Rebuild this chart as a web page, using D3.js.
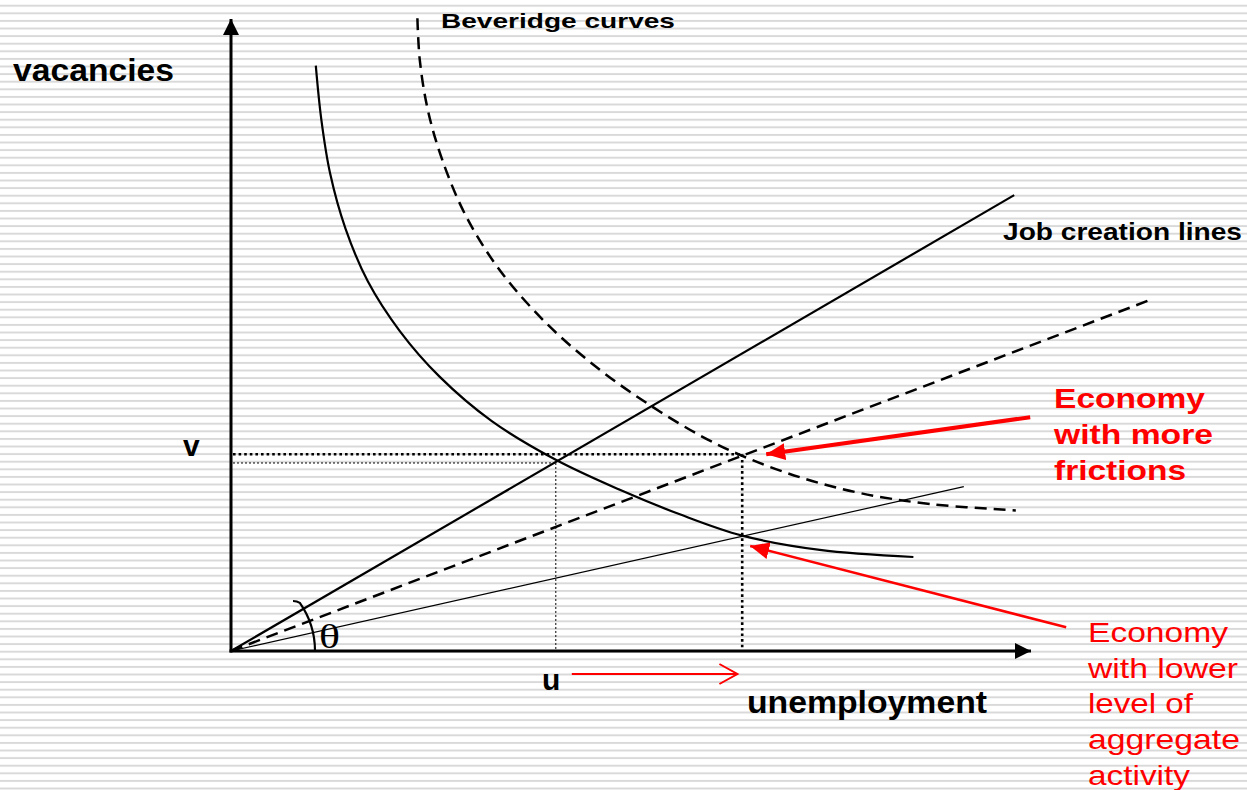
<!DOCTYPE html>
<html>
<head>
<meta charset="utf-8">
<script src="https://cdn.jsdelivr.net/npm/d3@7"></script>
<style>
  body { margin: 0; background: #fff; }
  svg { display: block; font-family: "Liberation Sans", Arial, sans-serif; }
</style>
</head>
<body>
<div class="chart-area"></div>
<script>
// job creation lines: end point (u, v) of each ray starting at the origin
const jobLineNames = ["base", "frictions", "lowActivity"];
const jobLineEnds = [[9.79, 5.77], [11.53, 4.46], [9.16, 2.08]];

// beveridge curves, (u, v)
const beveridgeBase = [
  [1.06, 7.41], [1.13, 6.72], [1.24, 6.04], [1.43, 5.35], [1.71, 4.68],
  [2.11, 4.05], [2.61, 3.47], [3.26, 2.91], [4.06, 2.42], [4.86, 2.04],
  [5.61, 1.73], [6.39, 1.46], [7.36, 1.28], [8.53, 1.19]
];
const beveridgeFrictions = [
  [2.33, 8.01], [2.36, 7.48], [2.46, 6.85], [2.64, 6.22], [2.93, 5.52],
  [3.36, 4.82], [3.96, 4.13], [4.61, 3.56], [5.24, 3.11], [5.86, 2.73],
  [6.39, 2.47], [7.11, 2.20], [7.86, 2.00], [8.74, 1.86], [9.81, 1.78]
];

// dotted projections of the equilibria onto the axes
const guideNames = ["base", "frictions"];
const guideU = [4.06, 6.39];
const guideV = [2.38, 2.49];

const axisLabels = ["vacancies", "unemployment"];
const pointLabels = ["v", "u"];
const frictionLines = ["Economy", "with more", "frictions"];
const lowActivityLines = ["Economy", "with lower", "level of", "aggregate", "activity"];

const width = 1247,
  height = 790,
  origin = { x: 231, y: 651 };

const x = d3.scaleLinear().domain([0, 10]).range([origin.x, 1031]);
const y = d3.scaleLinear().domain([0, 8]).range([origin.y, 19]);

const svg = d3
  .select(".chart-area")
  .append("svg")
  .attr("width", width)
  .attr("height", height);

const defs = svg.append("defs");

// striped slide background
const stripes = defs
  .append("pattern")
  .attr("id", "stripes")
  .attr("patternUnits", "userSpaceOnUse")
  .attr("width", 8)
  .attr("height", 7.6);
stripes.append("rect").attr("y", 4.7).attr("width", 8).attr("height", 2).attr("fill", "#d9d9d9");

svg.append("rect").attr("width", width).attr("height", height).attr("fill", "#fff");
svg.append("rect").attr("width", width).attr("height", height).attr("fill", "url(#stripes)");

function marker(id, len, w, color) {
  defs
    .append("marker")
    .attr("id", id)
    .attr("markerUnits", "userSpaceOnUse")
    .attr("viewBox", `0 ${-w / 2} ${len} ${w}`)
    .attr("refX", len)
    .attr("refY", 0)
    .attr("markerWidth", len)
    .attr("markerHeight", w)
    .attr("orient", "auto")
    .append("path")
    .attr("d", `M0,${-w / 2}L${len},0L0,${w / 2}Z`)
    .attr("fill", color);
}
marker("axis-head", 16, 16, "#000");
marker("red-head", 19, 17, "#f00");

// axes, no ticks
const xAxis = svg
  .append("g")
  .attr("transform", `translate(0,${origin.y})`)
  .call(d3.axisBottom(x).tickValues([]).tickSizeOuter(0));
const yAxis = svg
  .append("g")
  .attr("transform", `translate(${origin.x},0)`)
  .call(d3.axisLeft(y).tickValues([]).tickSizeOuter(0));
[xAxis, yAxis].forEach((a) =>
  a.select(".domain").attr("stroke", "#000").attr("stroke-width", 3).attr("marker-end", "url(#axis-head)")
);
// make the y domain path run upward so the head points up
yAxis.select(".domain").attr("d", `M0,${y(0) + 1.5}V${y(8)}`);
xAxis.select(".domain").attr("d", `M${x(0) - 1.5},0H${x(10)}`);

const lineStyle = {
  base: { width: 2.2, dash: null },
  frictions: { width: 2.5, dash: "12,7" },
  lowActivity: { width: 1.2, dash: null }
};

// dotted guides
const guideStyle = {
  base: { width: 1, dash: "2,2" },
  frictions: { width: 2.6, dash: "2.6,3" }
};
guideNames.forEach((name, i) => {
  const g = svg
    .append("g")
    .attr("fill", "none")
    .attr("stroke", "#000")
    .attr("stroke-width", guideStyle[name].width)
    .attr("stroke-dasharray", guideStyle[name].dash);
  g.append("line")
    .attr("x1", x(0) + 2)
    .attr("x2", x(guideU[i]))
    .attr("y1", y(guideV[i]))
    .attr("y2", y(guideV[i]));
  g.append("line")
    .attr("x1", x(guideU[i]))
    .attr("x2", x(guideU[i]))
    .attr("y1", y(guideV[i]))
    .attr("y2", y(0) - 2);
});

// job creation lines
svg
  .append("g")
  .attr("fill", "none")
  .attr("stroke", "#000")
  .selectAll("line")
  .data(jobLineEnds)
  .enter()
  .append("line")
  .attr("x1", x(0))
  .attr("y1", y(0))
  .attr("x2", (d) => x(d[0]))
  .attr("y2", (d) => y(d[1]))
  .attr("stroke-width", (d, i) => lineStyle[jobLineNames[i]].width)
  .attr("stroke-dasharray", (d, i) => lineStyle[jobLineNames[i]].dash);

// beveridge curves
const curve = d3
  .line()
  .x((d) => x(d[0]))
  .y((d) => y(d[1]))
  .curve(d3.curveCatmullRom.alpha(0.5));

svg
  .append("g")
  .attr("fill", "none")
  .attr("stroke", "#000")
  .selectAll("path")
  .data([beveridgeBase, beveridgeFrictions])
  .enter()
  .append("path")
  .attr("d", curve)
  .attr("stroke-width", (d, i) => (i ? 2.5 : 2.2))
  .attr("stroke-dasharray", (d, i) => (i ? "12,7" : null));

// theta arc
const arcPath = d3.path();
arcPath.moveTo(origin.x + 84, origin.y);
arcPath.arc(origin.x, origin.y, 84, 0, -0.61, true);
arcPath.quadraticCurveTo(origin.x + 66, origin.y - 50, origin.x + 62, origin.y - 50);
svg
  .append("path")
  .attr("d", arcPath.toString())
  .attr("fill", "none")
  .attr("stroke", "#000")
  .attr("stroke-width", 2.2);

// red arrows
const redArrows = svg.append("g").attr("stroke", "#f00").attr("fill", "none");
redArrows
  .append("line")
  .attr("x1", x(9.99)).attr("y1", y(2.96))
  .attr("x2", x(6.69)).attr("y2", y(2.49))
  .attr("stroke-width", 4)
  .attr("marker-end", "url(#red-head)");
redArrows
  .append("line")
  .attr("x1", x(10.44)).attr("y1", y(0.3))
  .attr("x2", x(6.49)).attr("y2", y(1.33))
  .attr("stroke-width", 2.5)
  .attr("marker-end", "url(#red-head)");
// open arrow under u
const uy = origin.y + 23;
redArrows
  .append("path")
  .attr("d", `M${x(4.26)},${uy}H${x(6.33)}M${x(6.33) - 18},${uy - 10}L${x(6.33)},${uy}L${x(6.33) - 18},${uy + 10}`)
  .attr("stroke-width", 2);

// texts
function label(str, px, py, size, weight, len, color, family) {
  const t = svg
    .append("text")
    .attr("x", px)
    .attr("y", py)
    .attr("font-size", size)
    .attr("font-weight", weight)
    .attr("fill", color || "#000")
    .text(str);
  if (family) t.attr("font-family", family);
  if (len) t.attr("textLength", len).attr("lengthAdjust", "spacingAndGlyphs");
  return t;
}

label(axisLabels[0], 13, 81, 31, "bold", 161);
label(axisLabels[1], 747, 713, 31, "bold", 240);
label("Beveridge curves", 441, 28, 21, "bold", 234);
label("Job creation lines", 1003, 240, 24, "bold", 239);
label(pointLabels[0], 183, 456, 30, "bold");
label(pointLabels[1], 542, 690, 30, "bold");
label("θ", 319, 648, 33, "normal", 21, "#000", "'Liberation Serif', 'DejaVu Serif', serif");

const frictionLens = [151, 159, 132];
frictionLines.forEach((s, i) => label(s, 1054, 408 + i * 36, 28, "bold", frictionLens[i], "#f00"));
const lowLens = [140, 150, 105, 152, 102];
lowActivityLines.forEach((s, i) => label(s, 1088, 642 + i * 35.7, 28, "normal", lowLens[i], "#f00"));
</script>
</body>
</html>
